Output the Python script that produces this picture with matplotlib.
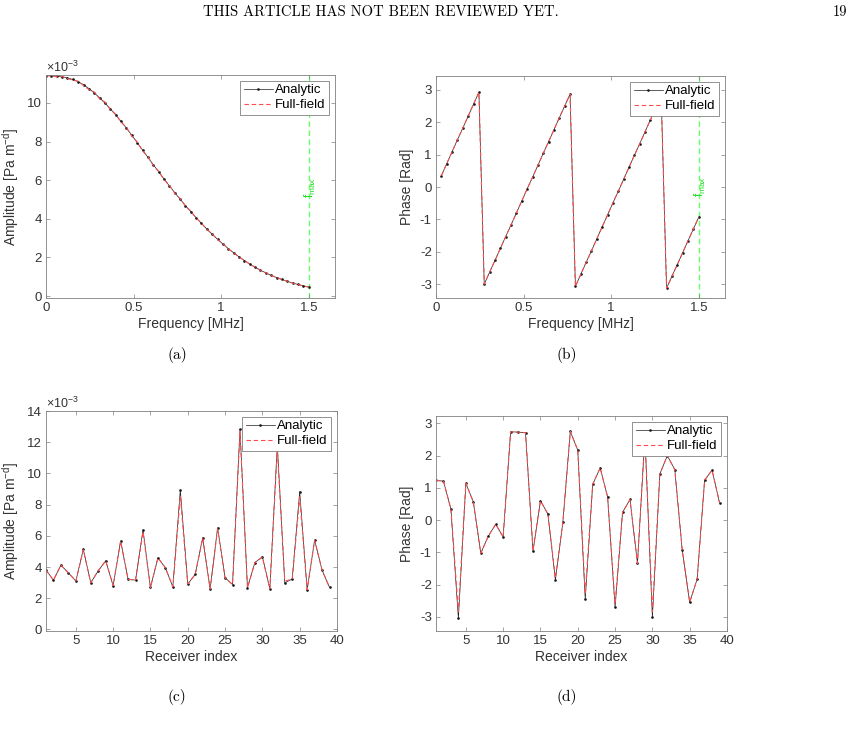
import numpy as np
import matplotlib
matplotlib.use('Agg')
import matplotlib.pyplot as plt

plt.rcParams['font.family'] = ['Liberation Sans', 'DejaVu Sans']
plt.rcParams['mathtext.fontset'] = 'custom'
plt.rcParams['mathtext.rm'] = 'Liberation Sans'
plt.rcParams['mathtext.it'] = 'Liberation Sans:italic'

# frequency grid [MHz], 50 samples from 0 to 1.5
freq = np.linspace(0, 1.5, 50)
f_max = 1.5

# (a) amplitude spectrum [x1e-3 Pa m^-d]
amp_analytic = [11.42, 11.41, 11.39, 11.35, 11.30, 11.22, 11.10, 10.95, 10.75, 10.52,
                10.27, 9.99, 9.70, 9.38, 9.05, 8.70, 8.33, 7.95, 7.57, 7.19,
                6.81, 6.44, 6.07, 5.71, 5.36, 5.02, 4.69, 4.37, 4.06, 3.76,
                3.47, 3.20, 2.94, 2.69, 2.46, 2.24, 2.03, 1.84, 1.66, 1.49,
                1.34, 1.20, 1.07, 0.96, 0.86, 0.76, 0.68, 0.60, 0.53, 0.46]
amp_fullfield = [11.42, 11.39, 11.36, 11.37, 11.27, 11.18, 11.13, 10.90, 10.70, 10.57,
                 10.22, 10.05, 9.66, 9.42, 9.00, 8.74, 8.28, 7.99, 7.52, 7.22,
                 6.77, 6.47, 6.03, 5.74, 5.33, 5.05, 4.66, 4.40, 4.04, 3.78,
                 3.45, 3.22, 2.92, 2.71, 2.44, 2.25, 2.02, 1.85, 1.65, 1.50,
                 1.33, 1.21, 1.06, 0.97, 0.85, 0.77, 0.67, 0.60, 0.53, 0.46]

# (b) phase spectrum [rad], from the second frequency sample onwards
phase_analytic = [0.35, 0.72, 1.09, 1.46, 1.82, 2.19, 2.56, 2.93,
                  -3.00, -2.63, -2.27, -1.90, -1.53, -1.17, -0.80, -0.43, -0.06,
                  0.30, 0.67, 1.04, 1.40, 1.77, 2.14, 2.50, 2.87,
                  -3.07, -2.70, -2.33, -1.97, -1.60, -1.23, -0.86, -0.49, -0.13,
                  0.24, 0.61, 0.98, 1.34, 1.71, 2.08, 2.45, 2.81,
                  -3.13, -2.76, -2.40, -2.03, -1.66, -1.30, -0.93]
phase_fullfield = list(phase_analytic)

# (c), (d) per receiver at one frequency
receiver = np.arange(1, 40)
rec_amp_analytic = [3.80, 3.16, 4.12, 3.63, 3.10, 5.13, 2.99, 3.76, 4.40, 2.80,
                    5.68, 3.21, 3.16, 6.37, 2.69, 4.59, 3.95, 2.73, 8.93, 2.91,
                    3.53, 5.88, 2.59, 6.52, 3.31, 2.88, 12.82, 2.67, 4.29, 4.66,
                    2.61, 11.80, 2.99, 3.23, 8.83, 2.52, 5.73, 3.80, 2.69]
rec_amp_fullfield = [3.80, 3.16, 4.12, 3.63, 3.10, 5.10, 2.99, 3.76, 4.40, 2.82,
                     5.65, 3.21, 3.16, 6.25, 2.69, 4.59, 3.95, 2.73, 8.55, 2.91,
                     3.53, 5.85, 2.59, 6.45, 3.31, 2.88, 12.70, 2.67, 4.29, 4.62,
                     2.61, 11.60, 3.10, 3.23, 8.50, 2.55, 5.70, 3.80, 2.69]
rec_phase_analytic = [1.23, 1.21, 0.34, -3.05, 1.14, 0.57, -1.03, -0.50, -0.13, -0.52,
                      2.74, 2.73, 2.71, -0.95, 0.60, 0.19, -1.86, -0.07, 2.75, 2.17,
                      -2.46, 1.11, 1.62, 0.72, -2.71, 0.24, 0.64, -1.34, 2.60, -3.02,
                      1.43, 2.00, 1.57, -0.93, -2.55, -1.83, 1.24, 1.55, 0.54]
rec_phase_fullfield = [1.23, 1.21, 0.34, -2.85, 1.14, 0.57, -1.03, -0.50, -0.13, -0.52,
                       2.74, 2.73, 2.71, -0.95, 0.60, 0.19, -1.80, -0.07, 2.75, 2.17,
                       -2.30, 1.11, 1.62, 0.72, -2.60, 0.24, 0.64, -1.34, 2.60, -2.85,
                       1.43, 2.00, 1.57, -0.93, -2.55, -1.83, 1.24, 1.55, 0.54]

W, H = 856, 737
fig = plt.figure(figsize=(W / 100, H / 100), dpi=100)


def box(l, t, r, b):
    return [l / W, 1 - b / H, (r - l) / W, (b - t) / H]


ax_a = fig.add_axes(box(46, 75, 335, 298))
ax_b = fig.add_axes(box(436, 76, 725, 298))
ax_c = fig.add_axes(box(46, 411, 337, 631))
ax_d = fig.add_axes(box(436, 416, 727, 631))

txt_col = '#333333'


def style(ax):
    for s in ax.spines.values():
        s.set_color('#808080')
        s.set_linewidth(0.6)
    ax.tick_params(direction='in', length=3, width=0.5, color='#808080',
                   labelsize=9.5, labelcolor=txt_col, top=True, right=True,
                   labeltop=False, labelright=False, pad=3)


def curves(ax, x, y1, y2):
    ax.plot(x, y1, '-', color='#1a1a1a', lw=0.5, marker='.', ms=1.8, label='Analytic')
    ax.plot(x, y2, color='#ff4d4d', lw=0.8, ls=(0, (4, 2.5)), label='Full-field')
    leg = ax.legend(loc='upper right', fontsize=9.5, fancybox=False, framealpha=1,
                    borderpad=0.25, handlelength=2.2, handletextpad=0.2,
                    labelspacing=0.2, borderaxespad=0.45)
    leg.get_frame().set_edgecolor('#808080')
    leg.get_frame().set_linewidth(0.6)
    leg.set_zorder(10)


def fmax_line(ax, ytxt):
    ax.axvline(f_max, color='#66ff66', lw=1.0, ls=(0, (4, 2.5)), zorder=1)
    ax.text(f_max + 0.012, ytxt, r'f$_{\mathregular{max}}$', color='#22dd22',
            rotation=90, ha='center', va='center', fontsize=8.5)


# (a)
curves(ax_a, freq, amp_analytic, amp_fullfield)
fmax_line(ax_a, 5.6)
ax_a.set_xlim(0, 1.65)
ax_a.set_ylim(-0.1, 11.45)
ax_a.set_xticks([0, 0.5, 1, 1.5])
ax_a.set_xticklabels(['0', '0.5', '1', '1.5'])
ax_a.set_yticks([0, 2, 4, 6, 8, 10])
ax_a.set_xlabel('Frequency [MHz]', fontsize=10, color=txt_col, labelpad=2)
ax_a.set_ylabel(r'Amplitude [Pa m$^{\mathregular{-d}}$]', fontsize=10, color=txt_col, labelpad=4)
ax_a.text(0, 1.0, r'$\times$10$^{\mathregular{-3}}$', transform=ax_a.transAxes,
          fontsize=9, color=txt_col, va='bottom', ha='left')
style(ax_a)

# (b)
curves(ax_b, freq[1:], phase_analytic, phase_fullfield)
fmax_line(ax_b, 0.0)
ax_b.set_xlim(0, 1.65)
ax_b.set_ylim(-3.43, 3.43)
ax_b.set_xticks([0, 0.5, 1, 1.5])
ax_b.set_xticklabels(['0', '0.5', '1', '1.5'])
ax_b.set_yticks([-3, -2, -1, 0, 1, 2, 3])
ax_b.set_yticklabels(['-3', '-2', '-1', '0', '1', '2', '3'])
ax_b.set_xlabel('Frequency [MHz]', fontsize=10, color=txt_col, labelpad=2)
ax_b.set_ylabel('Phase [Rad]', fontsize=10, color=txt_col, labelpad=4)
style(ax_b)

# (c)
curves(ax_c, receiver, rec_amp_analytic, rec_amp_fullfield)
ax_c.set_xlim(1, 40)
ax_c.set_ylim(-0.1, 14)
ax_c.set_xticks([5, 10, 15, 20, 25, 30, 35, 40])
ax_c.set_yticks([0, 2, 4, 6, 8, 10, 12, 14])
ax_c.set_xlabel('Receiver index', fontsize=10, color=txt_col, labelpad=2)
ax_c.set_ylabel(r'Amplitude [Pa m$^{\mathregular{-d}}$]', fontsize=10, color=txt_col, labelpad=4)
ax_c.text(0, 1.0, r'$\times$10$^{\mathregular{-3}}$', transform=ax_c.transAxes,
          fontsize=9, color=txt_col, va='bottom', ha='left')
style(ax_c)

# (d)
curves(ax_d, receiver, rec_phase_analytic, rec_phase_fullfield)
ax_d.set_xlim(1, 40)
ax_d.set_ylim(-3.44, 3.23)
ax_d.set_xticks([5, 10, 15, 20, 25, 30, 35, 40])
ax_d.set_yticks([-3, -2, -1, 0, 1, 2, 3])
ax_d.set_yticklabels(['-3', '-2', '-1', '0', '1', '2', '3'])
ax_d.set_xlabel('Receiver index', fontsize=10, color=txt_col, labelpad=2)
ax_d.set_ylabel('Phase [Rad]', fontsize=10, color=txt_col, labelpad=4)
style(ax_d)

# page header and sub-figure captions
serif = dict(family='cmr10', color='black')
fig.text(381 / W, 1 - 12 / H, 'THIS ARTICLE HAS NOT BEEN REVIEWED YET.',
         ha='center', va='center', fontsize=10.5, **serif)
fig.text(840 / W, 1 - 12 / H, '19', ha='center', va='center', fontsize=10.5, **serif)
for lbl, x, y in [('(a)', 177, 355), ('(b)', 567, 355), ('(c)', 177, 697), ('(d)', 567, 697)]:
    fig.text(x / W, 1 - y / H, lbl, ha='center', va='center', fontsize=11, **serif)

fig.savefig('out.png', dpi=100)
